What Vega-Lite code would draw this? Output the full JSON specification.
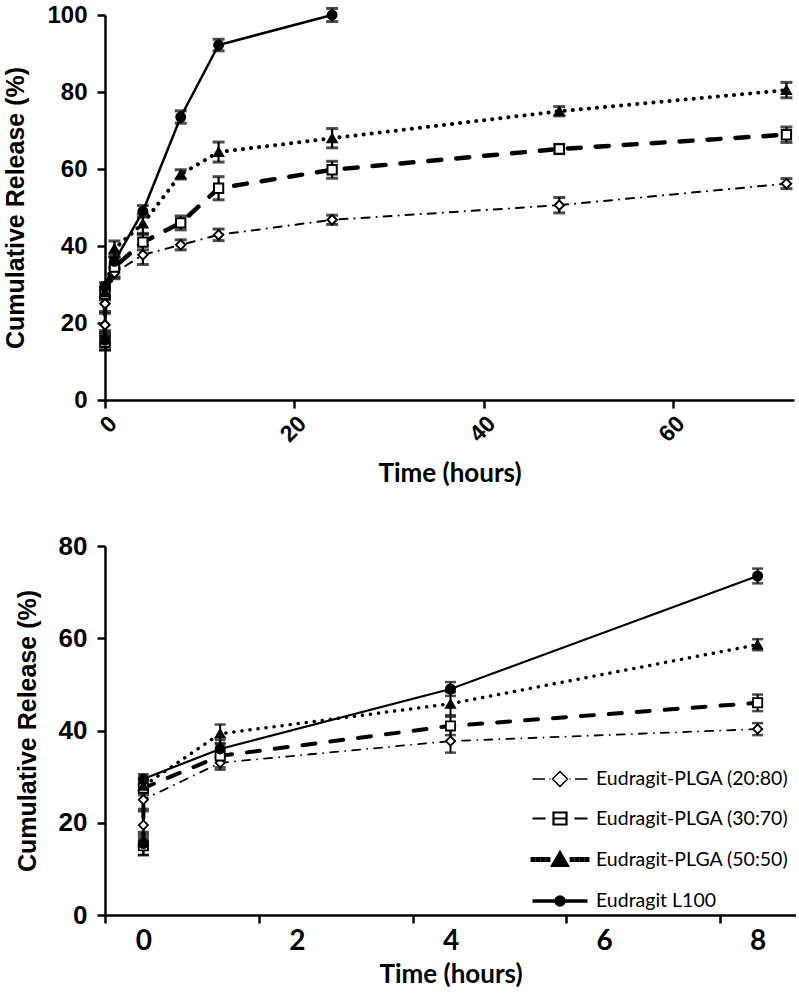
{
  "$schema": "https://vega.github.io/schema/vega-lite/v6.json",
  "background": "white",
  "padding": {"left": 3, "top": 3, "right": 0, "bottom": 0},
  "spacing": 46,
  "resolve": {
    "scale": {"shape": "independent", "fill": "independent", "size": "independent", "strokeWidth": "independent", "stroke": "independent"},
    "legend": {"shape": "independent", "fill": "independent", "size": "independent", "strokeWidth": "independent", "stroke": "independent"}
  },
  "config": {
    "view": {"stroke": null},
    "axis": {
      "grid": false,
      "domainColor": "black",
      "domainWidth": 2.5,
      "tickColor": "black",
      "tickWidth": 2.5,
      "tickSize": 8,
      "labelColor": "black",
      "titleColor": "black"
    }
  },
  "datasets": {
    "release": [
      {"series": "Eudragit-PLGA (20:80)", "step": 0, "t": 0, "v": 19.5, "err": 3},
      {"series": "Eudragit-PLGA (20:80)", "step": 1, "t": 0, "v": 25, "err": 2},
      {"series": "Eudragit-PLGA (20:80)", "step": 2, "t": 1, "v": 33, "err": 1.5},
      {"series": "Eudragit-PLGA (20:80)", "step": 3, "t": 4, "v": 37.7, "err": 2.5},
      {"series": "Eudragit-PLGA (20:80)", "step": 4, "t": 8, "v": 40.3, "err": 1.3},
      {"series": "Eudragit-PLGA (20:80)", "step": 5, "t": 12, "v": 42.9, "err": 1.5},
      {"series": "Eudragit-PLGA (20:80)", "step": 6, "t": 24, "v": 46.8, "err": 1.2},
      {"series": "Eudragit-PLGA (20:80)", "step": 7, "t": 48, "v": 50.6, "err": 2},
      {"series": "Eudragit-PLGA (20:80)", "step": 8, "t": 72, "v": 56.2, "err": 1.3},
      {"series": "Eudragit-PLGA (30:70)", "step": 0, "t": 0, "v": 15, "err": 2},
      {"series": "Eudragit-PLGA (30:70)", "step": 1, "t": 0, "v": 27.5, "err": 1.5},
      {"series": "Eudragit-PLGA (30:70)", "step": 2, "t": 1, "v": 34.5, "err": 2.5},
      {"series": "Eudragit-PLGA (30:70)", "step": 3, "t": 4, "v": 41, "err": 2},
      {"series": "Eudragit-PLGA (30:70)", "step": 4, "t": 8, "v": 46, "err": 1.8},
      {"series": "Eudragit-PLGA (30:70)", "step": 5, "t": 12, "v": 55, "err": 3},
      {"series": "Eudragit-PLGA (30:70)", "step": 6, "t": 24, "v": 59.8, "err": 2.2},
      {"series": "Eudragit-PLGA (30:70)", "step": 7, "t": 48, "v": 65.2, "err": 1.2},
      {"series": "Eudragit-PLGA (30:70)", "step": 8, "t": 72, "v": 68.9, "err": 2},
      {"series": "Eudragit-PLGA (50:50)", "step": 0, "t": 0, "v": 16, "err": 1.5},
      {"series": "Eudragit-PLGA (50:50)", "step": 1, "t": 0, "v": 28, "err": 1.5},
      {"series": "Eudragit-PLGA (50:50)", "step": 2, "t": 1, "v": 39.3, "err": 2},
      {"series": "Eudragit-PLGA (50:50)", "step": 3, "t": 4, "v": 45.8, "err": 2.5},
      {"series": "Eudragit-PLGA (50:50)", "step": 4, "t": 8, "v": 58.6, "err": 1.2},
      {"series": "Eudragit-PLGA (50:50)", "step": 5, "t": 12, "v": 64.4, "err": 2.6},
      {"series": "Eudragit-PLGA (50:50)", "step": 6, "t": 24, "v": 68, "err": 2.5},
      {"series": "Eudragit-PLGA (50:50)", "step": 7, "t": 48, "v": 75, "err": 1.2},
      {"series": "Eudragit-PLGA (50:50)", "step": 8, "t": 72, "v": 80.5, "err": 2},
      {"series": "Eudragit L100", "step": 0, "t": 0, "v": 15.5, "err": 2.5},
      {"series": "Eudragit L100", "step": 1, "t": 0, "v": 29.5, "err": 1},
      {"series": "Eudragit L100", "step": 2, "t": 1, "v": 36, "err": 2},
      {"series": "Eudragit L100", "step": 3, "t": 4, "v": 49, "err": 1.5},
      {"series": "Eudragit L100", "step": 4, "t": 8, "v": 73.5, "err": 1.6},
      {"series": "Eudragit L100", "step": 5, "t": 12, "v": 92.2, "err": 1.5},
      {"series": "Eudragit L100", "step": 6, "t": 24, "v": 100, "err": 1.7}
    ]
  },
  "vconcat": [
    {
      "width": 689,
      "height": 385,
      "data": {"name": "release"},
      "encoding": {
        "x": {
          "field": "t", "type": "quantitative",
          "scale": {"domain": [0, 72.8], "nice": false, "zero": false},
          "axis": {
            "values": [0, 20, 40, 60], "title": "Time (hours)",
            "labelAngle": -45, "labelFont": "Liberation Sans", "labelFontWeight": "bold", "labelFontSize": 23,
            "labelPadding": 4,
            "titleFont": "Lato", "titleFontWeight": "bold", "titleFontSize": 26, "titlePadding": 14
          }
        },
        "y": {
          "field": "v", "type": "quantitative",
          "scale": {"domain": [0, 100], "nice": false},
          "axis": {
            "values": [0, 20, 40, 60, 80, 100], "title": "Cumulative Release (%)",
            "labelFont": "Liberation Sans", "labelFontWeight": "bold", "labelFontSize": 24, "labelPadding": 10,
            "titleFont": "Liberation Sans", "titleFontWeight": "bold", "titleFontSize": 25, "titlePadding": 18
          }
        },
        "order": {"field": "step", "type": "quantitative"}
      },
      "layer": [
        {"transform": [{"filter": "datum.series === 'Eudragit-PLGA (20:80)'"}], "mark": {"type": "line", "color": "black", "strokeCap": "round", "strokeWidth": 2, "strokeDash": [8, 7, 0.1, 7]}},
        {"transform": [{"filter": "datum.series === 'Eudragit-PLGA (30:70)'"}], "mark": {"type": "line", "color": "black", "strokeCap": "round", "strokeWidth": 4.5, "strokeDash": [13, 15]}},
        {"transform": [{"filter": "datum.series === 'Eudragit-PLGA (50:50)'"}], "mark": {"type": "line", "color": "black", "strokeCap": "round", "strokeWidth": 4, "strokeDash": [0.1, 8]}},
        {"transform": [{"filter": "datum.series === 'Eudragit L100'"}], "mark": {"type": "line", "color": "black", "strokeCap": "round", "strokeWidth": 2.5}},
        {
          "mark": {"type": "errorbar", "ticks": {"size": 12, "thickness": 3, "color": "black"}, "rule": {"strokeWidth": 2.2, "color": "black"}},
          "encoding": {
            "yError": {"field": "err"},
            "detail": {"field": "series", "type": "nominal"}
          }
        },
        {
          "mark": {"type": "point", "filled": true, "stroke": "black", "strokeWidth": 2, "opacity": 1},
          "encoding": {
            "shape": {
              "field": "series", "type": "nominal", "legend": null,
              "scale": {
                "domain": ["Eudragit-PLGA (20:80)", "Eudragit-PLGA (30:70)", "Eudragit-PLGA (50:50)", "Eudragit L100"],
                "range": ["diamond", "square", "triangle-up", "circle"]
              }
            },
            "fill": {
              "field": "series", "type": "nominal", "legend": null,
              "scale": {
                "domain": ["Eudragit-PLGA (20:80)", "Eudragit-PLGA (30:70)", "Eudragit-PLGA (50:50)", "Eudragit L100"],
                "range": ["white", "white", "black", "black"]
              }
            },
            "size": {
              "field": "series", "type": "ordinal", "legend": null,
              "scale": {
                "domain": ["Eudragit-PLGA (20:80)", "Eudragit-PLGA (30:70)", "Eudragit-PLGA (50:50)", "Eudragit L100"],
                "range": [90, 80, 140, 60]
              }
            }
          }
        }
      ]
    },
    {
      "width": 691,
      "height": 369,
      "data": {"name": "release"},
      "transform": [{"filter": "datum.t <= 8"}],
      "resolve": {
        "scale": {"shape": "independent", "fill": "independent", "strokeWidth": "independent", "stroke": "independent"},
        "legend": {"shape": "independent", "fill": "independent", "strokeWidth": "independent", "stroke": "independent"}
      },
      "encoding": {
        "x": {
          "field": "t", "type": "quantitative",
          "scale": {"domain": [-0.5, 8.5], "nice": false, "zero": false},
          "axis": {
            "values": [0, 2, 4, 6, 8], "title": "Time (hours)", "tickOffset": -38, "labelOffset": 38,
            "labelFont": "Lato", "labelFontWeight": "bold", "labelFontSize": 28, "labelPadding": 4,
            "titleFont": "Lato", "titleFontWeight": "bold", "titleFontSize": 26, "titlePadding": 6
          }
        },
        "y": {
          "field": "v", "type": "quantitative",
          "scale": {"domain": [0, 80], "nice": false},
          "axis": {
            "values": [0, 20, 40, 60, 80], "title": "Cumulative Release (%)",
            "labelFont": "Liberation Sans", "labelFontWeight": "bold", "labelFontSize": 26, "labelPadding": 10,
            "titleFont": "Liberation Sans", "titleFontWeight": "bold", "titleFontSize": 25, "titlePadding": 18
          }
        },
        "order": {"field": "step", "type": "quantitative"}
      },
      "layer": [
        {"transform": [{"filter": "datum.series === 'Eudragit-PLGA (20:80)'"}], "mark": {"type": "line", "color": "black", "strokeCap": "round", "strokeWidth": 1.8, "strokeDash": [8, 7, 0.1, 7]}},
        {"transform": [{"filter": "datum.series === 'Eudragit-PLGA (30:70)'"}], "mark": {"type": "line", "color": "black", "strokeCap": "round", "strokeWidth": 4, "strokeDash": [13, 15]}},
        {"transform": [{"filter": "datum.series === 'Eudragit-PLGA (50:50)'"}], "mark": {"type": "line", "color": "black", "strokeCap": "round", "strokeWidth": 3.5, "strokeDash": [0.1, 8]}},
        {"transform": [{"filter": "datum.series === 'Eudragit L100'"}], "mark": {"type": "line", "color": "black", "strokeCap": "round", "strokeWidth": 2.2}},
        {
          "mark": {"type": "errorbar", "ticks": {"size": 11, "thickness": 2.5, "color": "black"}, "rule": {"strokeWidth": 2, "color": "black"}},
          "encoding": {
            "yError": {"field": "err"},
            "detail": {"field": "series", "type": "nominal"}
          }
        },
        {
          "mark": {"type": "point", "filled": true, "stroke": "black", "strokeWidth": 1.8, "opacity": 1, "size": 85},
          "encoding": {
            "shape": {
              "field": "series", "type": "nominal", "legend": null,
              "scale": {
                "domain": ["Eudragit-PLGA (20:80)", "Eudragit-PLGA (30:70)", "Eudragit-PLGA (50:50)", "Eudragit L100"],
                "range": ["diamond", "square", "triangle-up", "circle"]
              }
            },
            "fill": {
              "field": "series", "type": "nominal", "legend": null,
              "scale": {
                "domain": ["Eudragit-PLGA (20:80)", "Eudragit-PLGA (30:70)", "Eudragit-PLGA (50:50)", "Eudragit L100"],
                "range": ["white", "white", "black", "black"]
              }
            }
          }
        },
        {
          "transform": [{"filter": "false"}],
          "mark": {"type": "point", "filled": true, "stroke": "black"},
          "encoding": {
            "shape": {
              "field": "series", "type": "nominal",
              "scale": {
                "domain": ["Eudragit-PLGA (20:80)", "Eudragit-PLGA (30:70)", "Eudragit-PLGA (50:50)", "Eudragit L100"],
                "range": [
                  "M-2.75,0H-1.5M-1.05,0H-0.95M-0.75,0L0,-0.75L0.75,0L0,0.75ZM0.95,0H1.05M1.5,0H2.75",
                  "M-2.75,0H-1.45M-0.65,-0.6H0.65V0.6H-0.65ZM-0.65,0H0.65M1.45,0H2.75",
                  "M-2.8,-0.1h0.2v0.2h-0.2ZM-2.3,-0.1h0.2v0.2h-0.2ZM-1.8,-0.1h0.2v0.2h-0.2ZM-1.3,-0.1h0.2v0.2h-0.2ZM-0.75,0.6L0,-0.7L0.75,0.6ZM1.1,-0.1h0.2v0.2h-0.2ZM1.6,-0.1h0.2v0.2h-0.2ZM2.1,-0.1h0.2v0.2h-0.2ZM2.6,-0.1h0.2v0.2h-0.2Z",
                  "M-2.75,0H2.75M0.4,0A0.4,0.4 0 1 1 -0.4,0A0.4,0.4 0 1 1 0.4,0Z"
                ]
              },
              "legend": {
                "title": null, "orient": "none", "legendX": 443, "legendY": 222, "padding": 0,
                "symbolSize": 400, "rowPadding": 17, "labelOffset": 24, "labelLimit": 400,
                "symbolStrokeColor": "black", "symbolStrokeWidth": 2, "symbolOpacity": 1,
                "labelFont": "Lato", "labelFontSize": 19.5, "labelColor": "black"
              }
            },
            "fill": {
              "field": "series", "type": "nominal",
              "scale": {
                "domain": ["Eudragit-PLGA (20:80)", "Eudragit-PLGA (30:70)", "Eudragit-PLGA (50:50)", "Eudragit L100"],
                "range": ["white", "white", "black", "black"]
              }
            },
            "stroke": {
              "field": "series", "type": "nominal",
              "scale": {
                "domain": ["Eudragit-PLGA (20:80)", "Eudragit-PLGA (30:70)", "Eudragit-PLGA (50:50)", "Eudragit L100"],
                "range": ["black", "black", "black", "black"]
              }
            },
            "strokeWidth": {
              "field": "series", "type": "ordinal",
              "scale": {
                "domain": ["Eudragit-PLGA (20:80)", "Eudragit-PLGA (30:70)", "Eudragit-PLGA (50:50)", "Eudragit L100"],
                "range": [1.5, 3.5, 2.5, 1.5]
              }
            }
          }
        }
      ]
    }
  ]
}
